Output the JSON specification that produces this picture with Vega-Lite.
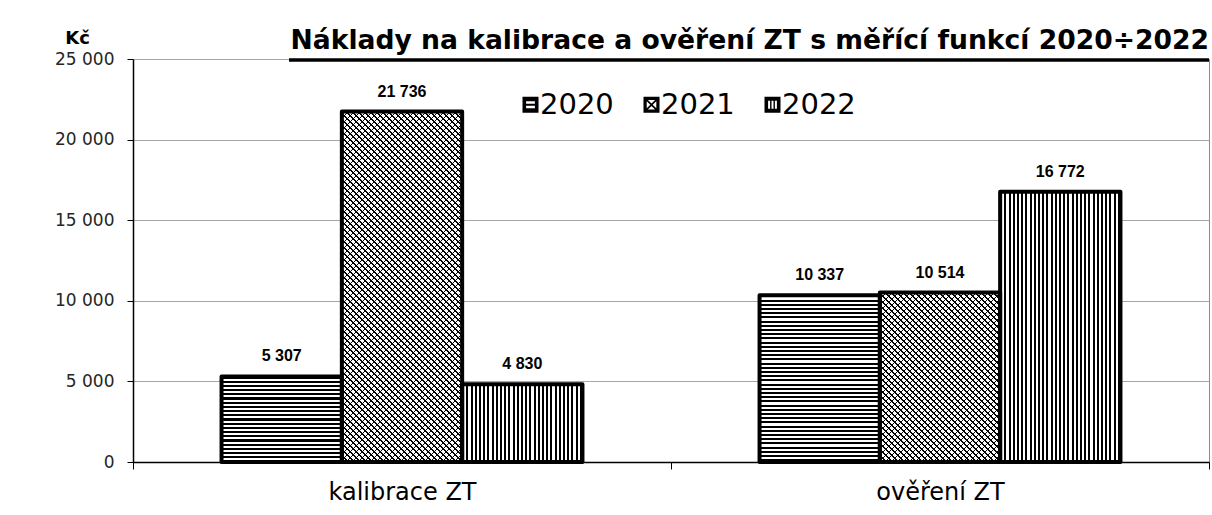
{
  "$schema": "https://vega.github.io/schema/vega-lite/v6.json",
  "width": 1076,
  "height": 403,
  "autosize": {"type": "none"},
  "padding": {"left": 133, "top": 59, "right": 3, "bottom": 53},
  "background": "#ffffff",
  "config": {
    "font": "Liberation Sans",
    "locale": {"number": {"decimal": ",", "thousands": " ", "grouping": [3], "currency": ["", " Kč"]}},
    "view": {"stroke": "#8c8c8c", "strokeWidth": 1}
  },
  "title": {
    "text": "Náklady na kalibrace a ověření ZT s měřící funkcí 2020÷2022",
    "anchor": "end",
    "frame": "group",
    "font": "DejaVu Sans",
    "fontSize": 26.6,
    "fontWeight": "bold",
    "color": "#000",
    "baseline": "alphabetic",
    "offset": -47
  },
  "params": [
    {"name": "hs", "value": [
      {"offset":0,"color":"#0000"},
      {"offset":0,"color":"#000"},{"offset":0.015625,"color":"#000"},{"offset":0.015625,"color":"#0000"},{"offset":0.03125,"color":"#0000"},
      {"offset":0.03125,"color":"#000"},{"offset":0.046875,"color":"#000"},{"offset":0.046875,"color":"#0000"},{"offset":0.0625,"color":"#0000"},
      {"offset":0.0625,"color":"#000"},{"offset":0.078125,"color":"#000"},{"offset":0.078125,"color":"#0000"},{"offset":0.09375,"color":"#0000"},
      {"offset":0.09375,"color":"#000"},{"offset":0.109375,"color":"#000"},{"offset":0.109375,"color":"#0000"},{"offset":0.125,"color":"#0000"},
      {"offset":0.125,"color":"#000"},{"offset":0.140625,"color":"#000"},{"offset":0.140625,"color":"#0000"},{"offset":0.15625,"color":"#0000"},
      {"offset":0.15625,"color":"#000"},{"offset":0.171875,"color":"#000"},{"offset":0.171875,"color":"#0000"},{"offset":0.1875,"color":"#0000"},
      {"offset":0.1875,"color":"#000"},{"offset":0.203125,"color":"#000"},{"offset":0.203125,"color":"#0000"},{"offset":0.21875,"color":"#0000"},
      {"offset":0.21875,"color":"#000"},{"offset":0.234375,"color":"#000"},{"offset":0.234375,"color":"#0000"},{"offset":0.25,"color":"#0000"},
      {"offset":0.25,"color":"#000"},{"offset":0.265625,"color":"#000"},{"offset":0.265625,"color":"#0000"},{"offset":0.28125,"color":"#0000"},
      {"offset":0.28125,"color":"#000"},{"offset":0.296875,"color":"#000"},{"offset":0.296875,"color":"#0000"},{"offset":0.3125,"color":"#0000"},
      {"offset":0.3125,"color":"#000"},{"offset":0.328125,"color":"#000"},{"offset":0.328125,"color":"#0000"},{"offset":0.34375,"color":"#0000"},
      {"offset":0.34375,"color":"#000"},{"offset":0.359375,"color":"#000"},{"offset":0.359375,"color":"#0000"},{"offset":0.375,"color":"#0000"},
      {"offset":0.375,"color":"#000"},{"offset":0.390625,"color":"#000"},{"offset":0.390625,"color":"#0000"},{"offset":0.40625,"color":"#0000"},
      {"offset":0.40625,"color":"#000"},{"offset":0.421875,"color":"#000"},{"offset":0.421875,"color":"#0000"},{"offset":0.4375,"color":"#0000"},
      {"offset":0.4375,"color":"#000"},{"offset":0.453125,"color":"#000"},{"offset":0.453125,"color":"#0000"},{"offset":0.46875,"color":"#0000"},
      {"offset":0.46875,"color":"#000"},{"offset":0.484375,"color":"#000"},{"offset":0.484375,"color":"#0000"},{"offset":0.5,"color":"#0000"},
      {"offset":0.5,"color":"#000"},{"offset":0.515625,"color":"#000"},{"offset":0.515625,"color":"#0000"},{"offset":0.53125,"color":"#0000"},
      {"offset":0.53125,"color":"#000"},{"offset":0.546875,"color":"#000"},{"offset":0.546875,"color":"#0000"},{"offset":0.5625,"color":"#0000"},
      {"offset":0.5625,"color":"#000"},{"offset":0.578125,"color":"#000"},{"offset":0.578125,"color":"#0000"},{"offset":0.59375,"color":"#0000"},
      {"offset":0.59375,"color":"#000"},{"offset":0.609375,"color":"#000"},{"offset":0.609375,"color":"#0000"},{"offset":0.625,"color":"#0000"},
      {"offset":0.625,"color":"#000"},{"offset":0.640625,"color":"#000"},{"offset":0.640625,"color":"#0000"},{"offset":0.65625,"color":"#0000"},
      {"offset":0.65625,"color":"#000"},{"offset":0.671875,"color":"#000"},{"offset":0.671875,"color":"#0000"},{"offset":0.6875,"color":"#0000"},
      {"offset":0.6875,"color":"#000"},{"offset":0.703125,"color":"#000"},{"offset":0.703125,"color":"#0000"},{"offset":0.71875,"color":"#0000"},
      {"offset":0.71875,"color":"#000"},{"offset":0.734375,"color":"#000"},{"offset":0.734375,"color":"#0000"},{"offset":0.75,"color":"#0000"},
      {"offset":0.75,"color":"#000"},{"offset":0.765625,"color":"#000"},{"offset":0.765625,"color":"#0000"},{"offset":0.78125,"color":"#0000"},
      {"offset":0.78125,"color":"#000"},{"offset":0.796875,"color":"#000"},{"offset":0.796875,"color":"#0000"},{"offset":0.8125,"color":"#0000"},
      {"offset":0.8125,"color":"#000"},{"offset":0.828125,"color":"#000"},{"offset":0.828125,"color":"#0000"},{"offset":0.84375,"color":"#0000"},
      {"offset":0.84375,"color":"#000"},{"offset":0.859375,"color":"#000"},{"offset":0.859375,"color":"#0000"},{"offset":0.875,"color":"#0000"},
      {"offset":0.875,"color":"#000"},{"offset":0.890625,"color":"#000"},{"offset":0.890625,"color":"#0000"},{"offset":0.90625,"color":"#0000"},
      {"offset":0.90625,"color":"#000"},{"offset":0.921875,"color":"#000"},{"offset":0.921875,"color":"#0000"},{"offset":0.9375,"color":"#0000"},
      {"offset":0.9375,"color":"#000"},{"offset":0.953125,"color":"#000"},{"offset":0.953125,"color":"#0000"},{"offset":0.96875,"color":"#0000"},
      {"offset":0.96875,"color":"#000"},{"offset":0.984375,"color":"#000"},{"offset":0.984375,"color":"#0000"},{"offset":1,"color":"#0000"}
    ]},
    {"name": "ds", "value": [
      {"offset":0,"color":"#0000"},
      {"offset":0,"color":"#000"},{"offset":0.0078125,"color":"#000"},{"offset":0.0078125,"color":"#0000"},{"offset":0.03125,"color":"#0000"},
      {"offset":0.03125,"color":"#000"},{"offset":0.0390625,"color":"#000"},{"offset":0.0390625,"color":"#0000"},{"offset":0.0625,"color":"#0000"},
      {"offset":0.0625,"color":"#000"},{"offset":0.0703125,"color":"#000"},{"offset":0.0703125,"color":"#0000"},{"offset":0.09375,"color":"#0000"},
      {"offset":0.09375,"color":"#000"},{"offset":0.1015625,"color":"#000"},{"offset":0.1015625,"color":"#0000"},{"offset":0.125,"color":"#0000"},
      {"offset":0.125,"color":"#000"},{"offset":0.1328125,"color":"#000"},{"offset":0.1328125,"color":"#0000"},{"offset":0.15625,"color":"#0000"},
      {"offset":0.15625,"color":"#000"},{"offset":0.1640625,"color":"#000"},{"offset":0.1640625,"color":"#0000"},{"offset":0.1875,"color":"#0000"},
      {"offset":0.1875,"color":"#000"},{"offset":0.1953125,"color":"#000"},{"offset":0.1953125,"color":"#0000"},{"offset":0.21875,"color":"#0000"},
      {"offset":0.21875,"color":"#000"},{"offset":0.2265625,"color":"#000"},{"offset":0.2265625,"color":"#0000"},{"offset":0.25,"color":"#0000"},
      {"offset":0.25,"color":"#000"},{"offset":0.2578125,"color":"#000"},{"offset":0.2578125,"color":"#0000"},{"offset":0.28125,"color":"#0000"},
      {"offset":0.28125,"color":"#000"},{"offset":0.2890625,"color":"#000"},{"offset":0.2890625,"color":"#0000"},{"offset":0.3125,"color":"#0000"},
      {"offset":0.3125,"color":"#000"},{"offset":0.3203125,"color":"#000"},{"offset":0.3203125,"color":"#0000"},{"offset":0.34375,"color":"#0000"},
      {"offset":0.34375,"color":"#000"},{"offset":0.3515625,"color":"#000"},{"offset":0.3515625,"color":"#0000"},{"offset":0.375,"color":"#0000"},
      {"offset":0.375,"color":"#000"},{"offset":0.3828125,"color":"#000"},{"offset":0.3828125,"color":"#0000"},{"offset":0.40625,"color":"#0000"},
      {"offset":0.40625,"color":"#000"},{"offset":0.4140625,"color":"#000"},{"offset":0.4140625,"color":"#0000"},{"offset":0.4375,"color":"#0000"},
      {"offset":0.4375,"color":"#000"},{"offset":0.4453125,"color":"#000"},{"offset":0.4453125,"color":"#0000"},{"offset":0.46875,"color":"#0000"},
      {"offset":0.46875,"color":"#000"},{"offset":0.4765625,"color":"#000"},{"offset":0.4765625,"color":"#0000"},{"offset":0.5,"color":"#0000"},
      {"offset":0.5,"color":"#000"},{"offset":0.5078125,"color":"#000"},{"offset":0.5078125,"color":"#0000"},{"offset":0.53125,"color":"#0000"},
      {"offset":0.53125,"color":"#000"},{"offset":0.5390625,"color":"#000"},{"offset":0.5390625,"color":"#0000"},{"offset":0.5625,"color":"#0000"},
      {"offset":0.5625,"color":"#000"},{"offset":0.5703125,"color":"#000"},{"offset":0.5703125,"color":"#0000"},{"offset":0.59375,"color":"#0000"},
      {"offset":0.59375,"color":"#000"},{"offset":0.6015625,"color":"#000"},{"offset":0.6015625,"color":"#0000"},{"offset":0.625,"color":"#0000"},
      {"offset":0.625,"color":"#000"},{"offset":0.6328125,"color":"#000"},{"offset":0.6328125,"color":"#0000"},{"offset":0.65625,"color":"#0000"},
      {"offset":0.65625,"color":"#000"},{"offset":0.6640625,"color":"#000"},{"offset":0.6640625,"color":"#0000"},{"offset":0.6875,"color":"#0000"},
      {"offset":0.6875,"color":"#000"},{"offset":0.6953125,"color":"#000"},{"offset":0.6953125,"color":"#0000"},{"offset":0.71875,"color":"#0000"},
      {"offset":0.71875,"color":"#000"},{"offset":0.7265625,"color":"#000"},{"offset":0.7265625,"color":"#0000"},{"offset":0.75,"color":"#0000"},
      {"offset":0.75,"color":"#000"},{"offset":0.7578125,"color":"#000"},{"offset":0.7578125,"color":"#0000"},{"offset":0.78125,"color":"#0000"},
      {"offset":0.78125,"color":"#000"},{"offset":0.7890625,"color":"#000"},{"offset":0.7890625,"color":"#0000"},{"offset":0.8125,"color":"#0000"},
      {"offset":0.8125,"color":"#000"},{"offset":0.8203125,"color":"#000"},{"offset":0.8203125,"color":"#0000"},{"offset":0.84375,"color":"#0000"},
      {"offset":0.84375,"color":"#000"},{"offset":0.8515625,"color":"#000"},{"offset":0.8515625,"color":"#0000"},{"offset":0.875,"color":"#0000"},
      {"offset":0.875,"color":"#000"},{"offset":0.8828125,"color":"#000"},{"offset":0.8828125,"color":"#0000"},{"offset":0.90625,"color":"#0000"},
      {"offset":0.90625,"color":"#000"},{"offset":0.9140625,"color":"#000"},{"offset":0.9140625,"color":"#0000"},{"offset":0.9375,"color":"#0000"},
      {"offset":0.9375,"color":"#000"},{"offset":0.9453125,"color":"#000"},{"offset":0.9453125,"color":"#0000"},{"offset":0.96875,"color":"#0000"},
      {"offset":0.96875,"color":"#000"},{"offset":0.9765625,"color":"#000"},{"offset":0.9765625,"color":"#0000"},{"offset":1,"color":"#0000"}
    ]}
  ],
  "data": {"values": [
    {"cat": "kalibrace ZT", "year": "2020", "value": 5307},
    {"cat": "kalibrace ZT", "year": "2021", "value": 21736},
    {"cat": "kalibrace ZT", "year": "2022", "value": 4830},
    {"cat": "ověření ZT", "year": "2020", "value": 10337},
    {"cat": "ověření ZT", "year": "2021", "value": 10514},
    {"cat": "ověření ZT", "year": "2022", "value": 16772}
  ]},
  "layer": [
    {
      "encoding": {
        "x": {
          "field": "cat", "type": "nominal",
          "scale": {"domain": ["kalibrace ZT", "ověření ZT"], "paddingInner": 0, "paddingOuter": 0},
          "axis": {
            "title": null, "labelAngle": 0, "tickBand": "extent",
            "domainColor": "#000", "domainWidth": 1.5, "tickColor": "#000", "tickSize": 7,
            "labelFont": "DejaVu Sans", "labelFontSize": 24, "labelColor": "#000", "labelPadding": 11
          }
        },
        "xOffset": {
          "field": "year", "type": "nominal",
          "scale": {"domain": ["2020", "2021", "2022"], "paddingInner": 0, "paddingOuter": 0.736}
        },
        "y": {
          "field": "value", "type": "quantitative",
          "scale": {"domain": [0, 25000], "nice": false},
          "axis": {
            "values": [0, 5000, 10000, 15000, 20000, 25000], "format": ",d",
            "grid": true, "gridColor": "#a6a6a6", "gridWidth": 1,
            "domainColor": "#000", "domainWidth": 1.5, "tickColor": "#000", "tickSize": 6,
            "labelFont": "DejaVu Sans", "labelFontSize": 17, "labelColor": "#262626", "labelPadding": 13,
            "title": "Kč", "titleAngle": 0, "titleFont": "DejaVu Sans", "titleFontSize": 18, "titleFontWeight": "bold",
            "titleColor": "#000", "titleX": -56, "titleY": -21, "titleAlign": "center", "titleBaseline": "middle"
          }
        }
      },
      "layer": [
        {"mark": {"type": "bar", "fill": "#fff"}},
        {
          "transform": [{"filter": "datum.year == '2020' && datum.cat == 'kalibrace ZT'"}],
          "mark": {"type": "bar", "fill": {"expr": "{gradient: 'linear', x1: 0, y1: 0, x2: 0, y2: 1.571, stops: hs}"}}
        },
        {
          "transform": [{"filter": "datum.year == '2020' && datum.cat != 'kalibrace ZT'"}],
          "mark": {"type": "bar", "fill": {"expr": "{gradient: 'linear', x1: 0, y1: 0, x2: 0, y2: 0.80658, stops: hs}"}}
        },
        {
          "transform": [{"filter": "datum.year == '2020' && datum.cat != 'kalibrace ZT'"}],
          "mark": {"type": "bar", "fill": {"expr": "{gradient: 'linear', x1: 0, y1: 0.80658, x2: 0, y2: 1.61316, stops: hs}"}}
        },
        {
          "transform": [{"filter": "datum.year == '2022'"}],
          "mark": {"type": "bar", "fill": {"expr": "{gradient: 'linear', x1: 0, y1: 0, x2: 1.1175, y2: 0, stops: hs}"}}
        },
        {
          "transform": [{"filter": "datum.year == '2021' && datum.cat == 'kalibrace ZT'"}],
          "mark": {"type": "bar", "fill": {"expr": "{gradient: 'linear', x1: 0, y1: 0, x2: 0.1683, y2: 0.49019, stops: ds}"}}
        },
        {
          "transform": [{"filter": "datum.year == '2021' && datum.cat == 'kalibrace ZT'"}],
          "mark": {"type": "bar", "fill": {"expr": "{gradient: 'linear', x1: 0.1683, y1: 0.49019, x2: 0.3366, y2: 0.98038, stops: ds}"}}
        },
        {
          "transform": [{"filter": "datum.year == '2021' && datum.cat == 'kalibrace ZT'"}],
          "mark": {"type": "bar", "fill": {"expr": "{gradient: 'linear', x1: 0.3366, y1: 0.98038, x2: 0.5049, y2: 1.47057, stops: ds}"}}
        },
        {
          "transform": [{"filter": "datum.year == '2021' && datum.cat == 'kalibrace ZT'"}],
          "mark": {"type": "bar", "fill": {"expr": "{gradient: 'linear', x1: 0, y1: 1, x2: 0.1683, y2: 0.50981, stops: ds}"}}
        },
        {
          "transform": [{"filter": "datum.year == '2021' && datum.cat == 'kalibrace ZT'"}],
          "mark": {"type": "bar", "fill": {"expr": "{gradient: 'linear', x1: 0.1683, y1: 0.50981, x2: 0.3366, y2: 0.01962, stops: ds}"}}
        },
        {
          "transform": [{"filter": "datum.year == '2021' && datum.cat == 'kalibrace ZT'"}],
          "mark": {"type": "bar", "fill": {"expr": "{gradient: 'linear', x1: 0.3366, y1: 0.01962, x2: 0.5049, y2: -0.47057, stops: ds}"}}
        },
        {
          "transform": [{"filter": "datum.year == '2021' && datum.cat != 'kalibrace ZT'"}],
          "mark": {"type": "bar", "fill": {"expr": "{gradient: 'linear', x1: 0, y1: 0, x2: 0.53468, y2: 0.75332, stops: ds}"}}
        },
        {
          "transform": [{"filter": "datum.year == '2021' && datum.cat != 'kalibrace ZT'"}],
          "mark": {"type": "bar", "fill": {"expr": "{gradient: 'linear', x1: 0.53468, y1: 0.75332, x2: 1.06936, y2: 1.50664, stops: ds}"}}
        },
        {
          "transform": [{"filter": "datum.year == '2021' && datum.cat != 'kalibrace ZT'"}],
          "mark": {"type": "bar", "fill": {"expr": "{gradient: 'linear', x1: 0, y1: 1, x2: 0.53468, y2: 0.24668, stops: ds}"}}
        },
        {
          "transform": [{"filter": "datum.year == '2021' && datum.cat != 'kalibrace ZT'"}],
          "mark": {"type": "bar", "fill": {"expr": "{gradient: 'linear', x1: 0.53468, y1: 0.24668, x2: 1.06936, y2: -0.50664, stops: ds}"}}
        },
        {"mark": {"type": "bar", "fillOpacity": 0, "stroke": "#000", "strokeWidth": 4, "strokeJoin": "round"}},
        {
          "mark": {"type": "text", "font": "Liberation Sans", "fontSize": 16, "fontWeight": "bold", "color": "#000", "baseline": "alphabetic", "dy": -15},
          "encoding": {"text": {"field": "value", "type": "quantitative", "format": ",d"}}
        }
      ]
    },
    {
      "data": {"values": [{}]},
      "mark": {"type": "rule", "stroke": "#000", "strokeWidth": 3.5, "yOffset": 1},
      "encoding": {
        "x": {"datum": "kalibrace ZT", "bandPosition": 0.29},
        "x2": {"value": "width"},
        "y": {"datum": 25000, "type": "quantitative"}
      }
    },
    {
      "transform": [{"filter": "datum.value < 0"}],
      "mark": {"type": "point", "filled": true, "opacity": 1, "strokeWidth": 0},
      "encoding": {
        "color": {
          "field": "year", "type": "nominal",
          "scale": {"domain": ["2020", "2021", "2022"], "range": ["#000", "#000", "#000"]},
          "legend": {
            "orient": "none", "legendX": 383, "legendY": 31, "direction": "horizontal", "title": null,
            "symbolSize": 256, "symbolStrokeWidth": 0, "symbolOpacity": 1,
            "labelFont": "DejaVu Sans", "labelFontSize": 29, "labelColor": "#000", "labelOffset": -5,
            "columnPadding": 23, "padding": 0
          }
        },
        "shape": {
          "field": "year", "type": "nominal",
          "scale": {"domain": ["2020", "2021", "2022"], "range": [
            "M-1,-1H1V1H-1Z M-0.55,-0.45V-0.12H0.55V-0.45Z M-0.55,0.12V0.45H0.55V0.12Z",
            "M-1,-1H1V1H-1Z M-0.45,-0.6L0,-0.15L0.45,-0.6Z M0.6,-0.45L0.15,0L0.6,0.45Z M0.45,0.6L0,0.15L-0.45,0.6Z M-0.6,0.45L-0.15,0L-0.6,-0.45Z",
            "M-1,-1H1V1H-1Z M-0.55,-0.5V0.5H-0.3V-0.5Z M-0.125,-0.5V0.5H0.125V-0.5Z M0.3,-0.5V0.5H0.55V-0.5Z"
          ]},
          "legend": {
            "orient": "none", "legendX": 383, "legendY": 31, "direction": "horizontal", "title": null,
            "symbolSize": 256, "symbolStrokeWidth": 0, "symbolOpacity": 1,
            "labelFont": "DejaVu Sans", "labelFontSize": 29, "labelColor": "#000", "labelOffset": -5,
            "columnPadding": 23, "padding": 0
          }
        }
      }
    }
  ]
}
